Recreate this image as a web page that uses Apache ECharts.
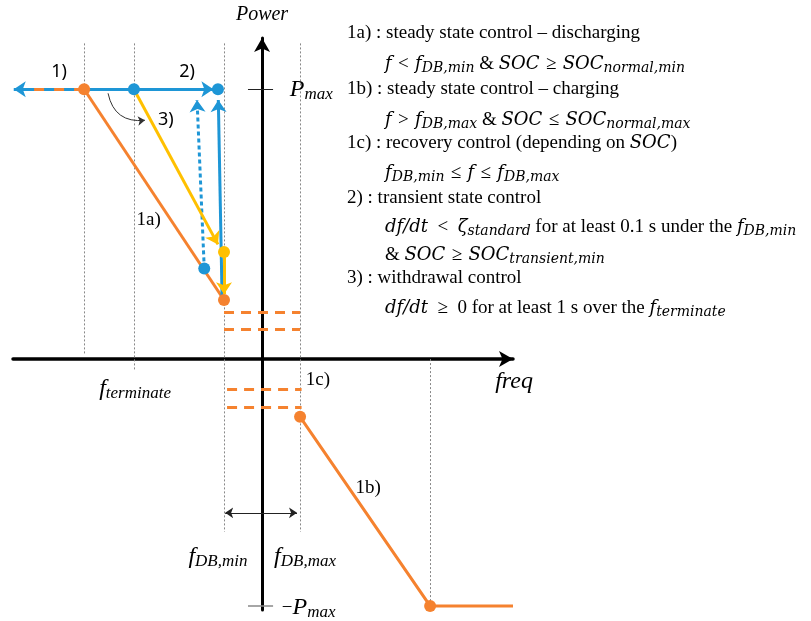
<!DOCTYPE html>
<html><head><meta charset="utf-8">
<script src="https://cdn.jsdelivr.net/npm/echarts@6/dist/echarts.min.js"></script>
<style>html,body{margin:0;padding:0;background:#fff}#c{width:811px;height:621px}</style>
</head><body><div id="c"></div>
<script>
// ---------- frequency positions (normalized: deadband edges at -1 / +1) ----------
const fLeftEnd = -6.53;
const fStart1 = -4.68;      // start of droop 1a)
const fTerminate = -3.37;
const fDbMin = -1;
const fDbMax = 1;
const fSat = 4.42;          // 1b) reaches -Pmax
const fRightEnd = 6.6;
const fBlueArrowEnd = -1.28;
const fBlueTopPoint = -1.16;
const fYellowTip = -1.16;
const fBlueUpLow = -1.05, fBlueUpHigh = -1.15;
const fDotLow = -1.52, fDotHigh = -1.71;

// ---------- power levels (normalized: Pmax = 1) ----------
const pMax = 1;
const pMin = -0.915;
const p1aEnd = 0.219;
const p1bStart = -0.214;
const pYellowPoint = 0.397;
const pYellowTip = 0.425;
const pYellowDownTip = 0.24;
const pBlueLow = 0.336;
const pArrowTop = 0.96;
const recoveryLevelsHigh = [0.175, 0.11];
const recoveryLevelsLow = [-0.11, -0.177];
const guideTop = 1.17, guideBottom = -0.641;

// ---------- curves ----------
const curve1a = [[fStart1, pMax], [fDbMin, p1aEnd]];
const curve1b = [[fDbMax, p1bStart], [fSat, pMin], [fRightEnd, pMin]];
const orangePoints = [[fStart1, pMax], [fDbMin, p1aEnd], [fDbMax, p1bStart], [fSat, pMin]];
const bluePoints = [[fTerminate, pMax], [fBlueTopPoint, pMax], [fDotLow, pBlueLow]];
const yellowPoints = [[fDbMin, pYellowPoint]];

const ORANGE = '#F5822F', BLUE = '#1E96D6', YELLOW = '#FFC000';

const MATH = 'DejaVu Serif';
const rich = {
  n: {fontFamily: 'Liberation Serif', fontSize: 19, color: '#000'},
  i: {fontFamily: MATH, fontStyle: 'italic', fontSize: 18, color: '#000'},
  s: {fontFamily: MATH, fontStyle: 'italic', fontSize: 14, color: '#000', padding: [8, 0, 0, 0]},
  I: {fontFamily: 'Liberation Serif', fontStyle: 'italic', fontSize: 24, color: '#000'},
  S: {fontFamily: 'Liberation Serif', fontStyle: 'italic', fontSize: 17, color: '#000', padding: [10, 0, 0, 0]},
  c: {fontFamily: 'Noto Sans', fontSize: 18, color: '#000'},
  p: {fontFamily: 'Liberation Serif', fontStyle: 'italic', fontSize: 20, color: '#000'}
};

// annotation texts anchored in data coordinates
const labelTexts = [
  {at: [0, 1.275], t: '{p|Power}', a: 'center'},
  {at: [0.73, pMax], t: '{I|P}{S|max}', a: 'left'},
  {at: [0.52, -0.922], t: '{n|−}{I|P}{S|max}', a: 'left'},
  {at: [-5.34, 1.063], t: '{c|1)}', a: 'center'},
  {at: [-1.97, 1.063], t: '{c|2)}', a: 'center'},
  {at: [-2.53, 0.885], t: '{c|3)}', a: 'center'},
  {at: [-2.98, 0.515], t: '{n|1a)}', a: 'center'},
  {at: [2.79, -0.478], t: '{n|1b)}', a: 'center'},
  {at: [1.47, -0.078], t: '{n|1c)}', a: 'center'},
  {at: [-3.34, -0.111], t: '{I|f}{S|terminate}', a: 'center'},
  {at: [6.13, -0.085], t: '{I|freq}', a: 'left'},
  {at: [-1.16, -0.733], t: '{I|f}{S|DB,min}', a: 'center'},
  {at: [1.13, -0.733], t: '{I|f}{S|DB,max}', a: 'center'}
];

// explanation block (right side)
const SP = '\u2004';
const noteLines = [
  {x: 347, y: 33, t: '{n|1a) : steady state control – discharging}'},
  {x: 385, y: 64, t: '{i|f}{n|' + SP + '<' + SP + '}{i|f}{s|DB,min}{n| & }{i|SOC}{n|' + SP + '≥' + SP + '}{i|SOC}{s|normal,min}'},
  {x: 347, y: 89, t: '{n|1b) : steady state control – charging}'},
  {x: 385, y: 120, t: '{i|f}{n|' + SP + '>' + SP + '}{i|f}{s|DB,max}{n| & }{i|SOC}{n|' + SP + '≤' + SP + '}{i|SOC}{s|normal,max}'},
  {x: 347, y: 143, t: '{n|1c) : recovery control (depending on }{i|SOC}{n|)}'},
  {x: 385, y: 173, t: '{i|f}{s|DB,min}{n|' + SP + '≤' + SP + '}{i|f}{n|' + SP + '≤' + SP + '}{i|f}{s|DB,max}'},
  {x: 347, y: 198, t: '{n|2) : transient state control}'},
  {x: 385, y: 227, t: '{i|df}{i|/}{i|dt}{n|\u2002<\u2002}{i|ζ}{s|standard}{n| for at least 0.1 s under the }{i|f}{s|DB,min}'},
  {x: 385, y: 255, t: '{n|& }{i|SOC}{n|' + SP + '≥' + SP + '}{i|SOC}{s|transient,min}'},
  {x: 347, y: 278, t: '{n|3) : withdrawal control}'},
  {x: 385, y: 308, t: '{i|df}{i|/}{i|dt}{n|\u2002≥\u2002' + '0 for at least 1 s over the }{i|f}{s|terminate}'}
];

function seg(name, coords, color, width, type, symbols, size, extra) {
  return Object.assign({
    name: name, type: 'lines', coordinateSystem: 'cartesian2d', polyline: false,
    symbol: symbols || ['none', 'none'], symbolSize: size || 10, silent: true,
    lineStyle: {color: color, width: width, type: type || 'solid', opacity: 1},
    data: coords.map(c => ({coords: c}))
  }, extra || {});
}

const chart = echarts.init(document.getElementById('c'), null, {renderer: 'canvas'});
chart.setOption({
  animation: false,
  backgroundColor: '#fff',
  grid: {left: 13, right: 298, top: 38, bottom: 11},
  xAxis: {type: 'value', min: -6.55, max: 6.6,
    axisLine: {onZero: true, lineStyle: {color: '#000', width: 3.5}, symbol: ['none', 'arrow'], symbolSize: [12, 14]},
    axisTick: {show: false}, axisLabel: {show: false}, splitLine: {show: false}},
  yAxis: {type: 'value', min: -0.93, max: 1.19,
    axisLine: {onZero: true, lineStyle: {color: '#000', width: 3}, symbol: ['none', 'arrow'], symbolSize: [12, 14]},
    axisTick: {show: false}, axisLabel: {show: false}, splitLine: {show: false}},
  graphic: noteLines.map(l => ({type: 'text', x: l.x, y: l.y, silent: true,
    style: {text: l.t, rich: rich, align: 'left', verticalAlign: 'middle', fill: '#000',
      fontFamily: 'Liberation Serif', fontSize: 19}})),
  series: [
    seg('guides', [
      [[fStart1, guideTop], [fStart1, 0.015]],
      [[fTerminate, guideTop], [fTerminate, -0.044]],
      [[fDbMin, guideTop], [fDbMin, guideBottom]],
      [[fDbMax, guideTop], [fDbMax, guideBottom]],
      [[fSat, 0], [fSat, pMin]]
    ], '#888', 1, [2, 2]),
    seg('pmaxTick', [[[-0.37, pMax], [0.29, pMax]]], '#222', 1),
    seg('pminTick', [[[-0.37, pMin], [0.29, pMin]]], '#888', 1.5),
    seg('recoveryHigh', recoveryLevelsHigh.map(v => [[fDbMin, v], [fDbMax, v]]), ORANGE, 3, [10, 7]),
    seg('recoveryLow', recoveryLevelsLow.map(v => [[-0.92, v], [1.04, v]]), ORANGE, 3, [10, 7]),
    seg('deadband', [[[-0.97, -0.57], [0.92, -0.57]]], '#222', 1, 'solid', ['arrow', 'arrow'], 8),
    seg('leftBlue', [[[fStart1, pMax], [fLeftEnd, pMax]]], BLUE, 3, 'solid', ['none', 'arrow'], 12),
    seg('leftOrange', [[[fStart1, pMax], [fLeftEnd + 0.35, pMax]]], ORANGE, 3, [10, 10]),
    seg('1a', [curve1a], ORANGE, 3),
    seg('1b', [curve1b], ORANGE, 3, 'solid', null, 10, {polyline: true}),
    seg('blueTop', [[[fStart1, pMax], [fBlueArrowEnd, pMax]]], BLUE, 3, 'solid', ['none', 'arrow'], 12),
    seg('blueUp', [[[fBlueUpLow, p1aEnd], [fBlueUpHigh, pArrowTop]]], BLUE, 3, 'solid', ['none', 'arrow'], 12),
    seg('blueDot', [[[fDotLow, pBlueLow], [fDotHigh, pArrowTop]]], BLUE, 3, [4, 3], ['none', 'arrow'], 12),
    seg('yellow', [[[fTerminate, pMax], [fYellowTip, pYellowTip]]], YELLOW, 3, 'solid', ['none', 'arrow'], 12),
    seg('yellowDown', [[[fDbMin, pYellowPoint], [fDbMin, pYellowDownTip]]], YELLOW, 3, 'solid', ['none', 'arrow'], 12),
    {type: 'lines', coordinateSystem: 'cartesian2d', silent: true, symbol: ['none', 'arrow'], symbolSize: 7,
      lineStyle: {color: '#333', width: 1, curveness: -0.45, opacity: 1},
      data: [{coords: [[-4.05, 0.985], [-3.08, 0.885]]}]},
    {type: 'scatter', data: orangePoints, symbolSize: 12, itemStyle: {color: ORANGE, opacity: 1}, silent: true, z: 5},
    {type: 'scatter', data: bluePoints, symbolSize: 12, itemStyle: {color: BLUE, opacity: 1}, silent: true, z: 5},
    {type: 'scatter', data: yellowPoints, symbolSize: 12, itemStyle: {color: YELLOW, opacity: 1}, silent: true, z: 5},
    {type: 'scatter', silent: true, clip: false, symbolSize: 0.1, itemStyle: {color: '#fff', opacity: 1}, z: 6,
      data: labelTexts.map(l => ({value: l.at,
        label: {show: true, position: 'inside', formatter: l.t, rich: rich, align: l.a, verticalAlign: 'middle',
          color: '#000', opacity: 1, textBorderWidth: 0}}))}
  ]
});
</script></body></html>
